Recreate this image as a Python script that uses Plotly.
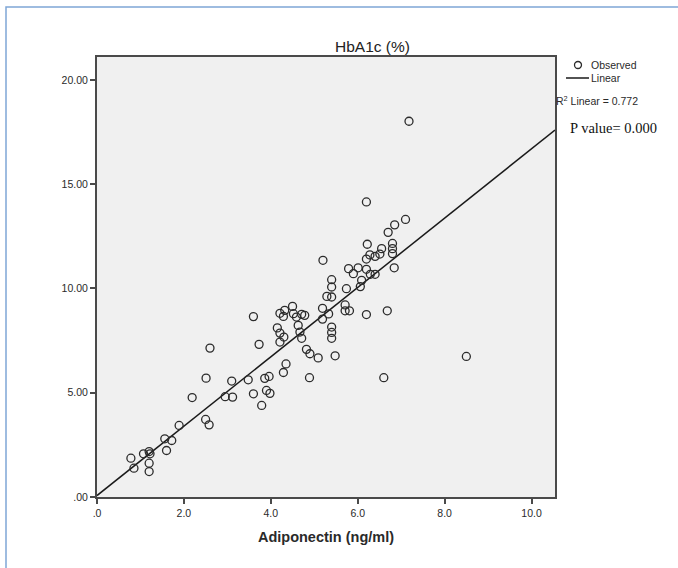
import plotly.graph_objects as go

adiponectin = [0.78, 0.85, 1.07, 1.20, 1.22, 1.20, 1.20, 1.56, 1.72, 1.60,
               1.89, 2.19, 2.50, 2.58, 2.51, 2.60, 2.95, 3.12, 3.10, 3.48,
               3.60, 3.73, 3.60, 3.79, 3.86, 3.96, 3.90, 3.98, 4.29, 4.35,
               4.21, 4.32, 4.29, 4.50, 4.52, 4.59, 4.71, 4.78, 4.15, 4.63,
               4.21, 4.30, 4.21, 4.67, 4.71, 4.82, 4.90, 5.09, 5.48, 4.89,
               5.20, 5.29, 5.40, 5.40, 5.40, 5.19, 5.33, 5.19, 5.40, 5.40,
               5.40, 5.71, 5.71, 5.81, 5.74, 6.20, 6.68, 6.60, 8.50, 7.18,
               6.20, 7.10, 6.85, 6.70, 6.22, 6.80, 6.80, 6.80, 6.55, 6.51,
               6.40, 6.28, 6.20, 6.84, 5.79, 5.90, 6.01, 6.20, 6.29, 6.40,
               6.09, 6.06]
hba1c = [1.86, 1.38, 2.07, 2.18, 2.07, 1.62, 1.22, 2.79, 2.71, 2.23,
         3.43, 4.77, 3.72, 3.46, 5.70, 7.14, 4.81, 4.79, 5.56, 5.62,
         8.65, 7.32, 4.95, 4.39, 5.69, 5.78, 5.11, 4.97, 5.97, 6.38,
         8.81, 8.95, 8.66, 9.14, 8.79, 8.63, 8.76, 8.71, 8.11, 8.23,
         7.86, 7.67, 7.43, 7.91, 7.61, 7.08, 6.87, 6.67, 6.77, 5.72,
         11.35, 9.62, 9.59, 10.42, 10.07, 9.05, 8.78, 8.53, 8.15, 7.89,
         7.61, 9.21, 8.93, 8.93, 9.99, 8.75, 8.93, 5.72, 6.74, 18.02,
         14.15, 13.31, 13.05, 12.69, 12.12, 12.16, 11.91, 11.67, 11.91, 11.65,
         11.54, 11.61, 11.41, 10.99, 10.95, 10.71, 10.99, 10.92, 10.68, 10.68,
         10.39, 10.09]

# Linear fit
fit_intercept = 0.07
fit_slope = 1.663
r2_text = "R<sup>2</sup> Linear = 0.772"
p_text = "P value= 0.000"

x_ticks = [0, 2, 4, 6, 8, 10]
x_ticktext = [".0", "2.0", "4.0", "6.0", "8.0", "10.0"]
y_ticks = [0, 5, 10, 15, 20]
y_ticktext = [".00", "5.00", "10.00", "15.00", "20.00"]
x_range = [0, 10.54]
y_range = [0, 21.1]

line_x = x_range
line_y = [fit_intercept + fit_slope * v for v in line_x]

W, H = 678, 568
L, R, T, B = 97, 123, 57, 71
pw, ph = W - L - R, H - T - B


def xp(px):
    return (px - L) / pw


def yp(py):
    return (H - B - py) / ph


ink = "#2a2a2a"
fig = go.Figure()
fig.add_trace(go.Scatter(x=line_x, y=line_y, mode="lines",
                         line=dict(color="#1a1a1a", width=1.5),
                         showlegend=False, hoverinfo="skip", cliponaxis=True))
fig.add_trace(go.Scatter(x=adiponectin, y=hba1c, mode="markers",
                         marker=dict(symbol="circle-open", size=8,
                                     color="#2b2b2b", line=dict(width=1.3)),
                         showlegend=False))

axis_common = dict(showgrid=False, zeroline=False, showline=True, mirror=True,
                   linecolor="#4a4a4a", linewidth=2, ticks="outside",
                   ticklen=5, tickcolor="#4a4a4a", tickwidth=1.5,
                   tickfont=dict(family="Liberation Sans, Arial", size=10.5, color=ink))

fig.update_xaxes(range=x_range, tickvals=x_ticks, ticktext=x_ticktext,
                 title=dict(text="<b>Adiponectin (ng/ml)</b>", standoff=14,
                            font=dict(family="Liberation Sans, Arial", size=14.5, color=ink)),
                 **axis_common)
fig.update_yaxes(range=y_range, tickvals=y_ticks, ticktext=y_ticktext, **axis_common)

shapes = [
    # outer frame
    dict(type="rect", xref="paper", yref="paper", x0=xp(6), x1=xp(681), y0=yp(571), y1=yp(7),
         line=dict(color="#7fa7d6", width=1.5), layer="below"),
    # legend marker
    dict(type="circle", xref="paper", yref="paper", x0=xp(574.5), x1=xp(581.5),
         y0=yp(68.5), y1=yp(61.5), line=dict(color="#2b2b2b", width=1.3)),
    dict(type="line", xref="paper", yref="paper", x0=xp(566), x1=xp(589),
         y0=yp(78), y1=yp(78), line=dict(color="#1a1a1a", width=1.5)),
]

small = dict(family="Liberation Sans, Arial", size=10.5, color=ink)


def note(text, px, py, font, xanchor="left"):
    return dict(text=text, x=xp(px), y=yp(py), xref="paper", yref="paper",
                xanchor=xanchor, yanchor="middle", showarrow=False, font=font)


annotations = [
    note("HbA1c (%)", 372, 46,
         dict(family="Liberation Sans, Arial", size=15.5, color="#222222"), xanchor="center"),
    note("Observed", 589, 65, small),
    note("Linear", 589, 78, small),
    note(r2_text, 554, 100, small),
    note(p_text, 568, 128,
         dict(family="Liberation Serif, Times New Roman", size=14.5, color="#111111")),
]

fig.update_layout(width=W, height=H, margin=dict(l=L, r=R, t=T, b=B),
                  paper_bgcolor="white", plot_bgcolor="#f0f0f0",
                  shapes=shapes, annotations=annotations, showlegend=False)

fig.write_html("out.html")
